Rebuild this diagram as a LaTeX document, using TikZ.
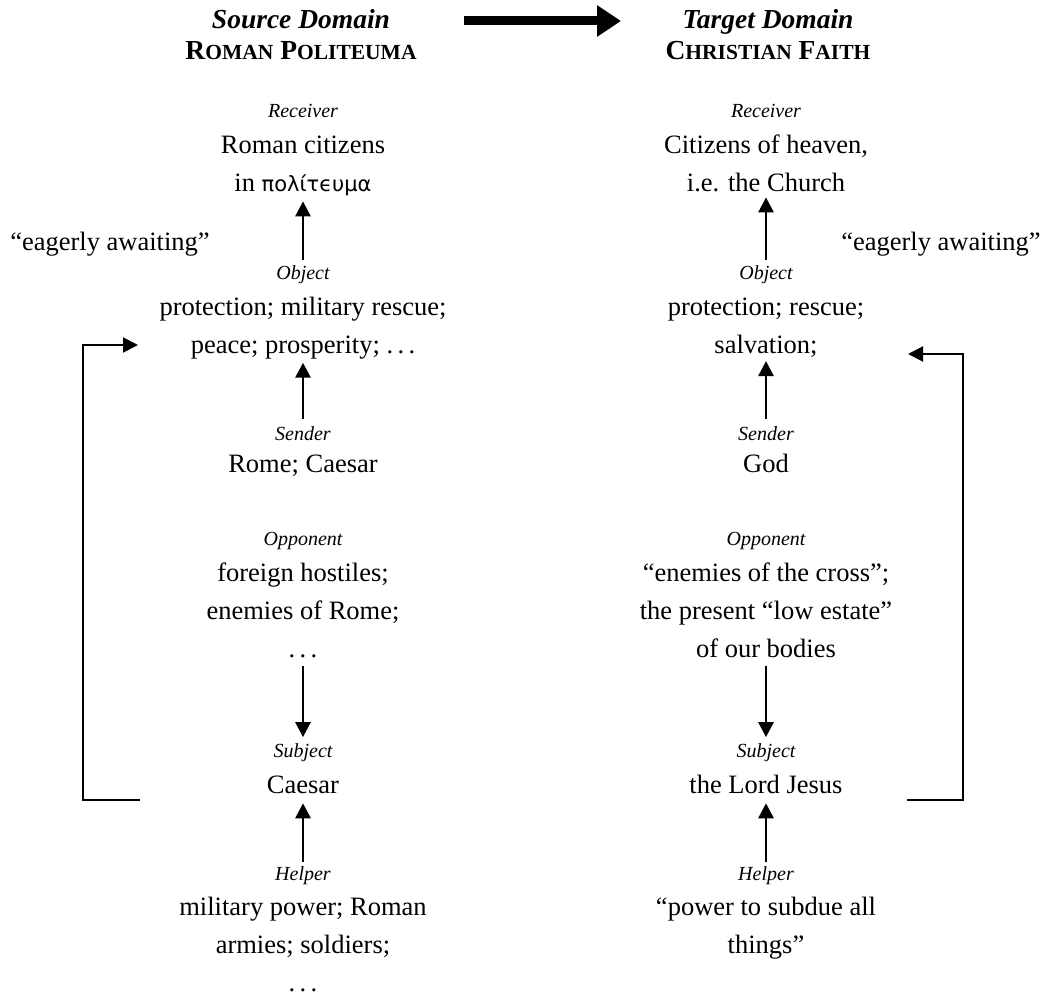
\documentclass[tikz,border=0pt]{standalone}
\usepackage{fontspec}
\setmainfont{Liberation Serif}
\newfontfamily\greekfont{DejaVu Sans}
\usetikzlibrary{arrows.meta,calc}
% faked small capitals for the domain names
\newcommand\fsc[1]{{\fontsize{21.5}{24}\selectfont #1}}
\newcommand\grk[1]{{\greekfont\fontsize{21}{38}\selectfont #1}}
\begin{document}
\begin{tikzpicture}[x=1pt,y=-1pt,
  every node/.style={inner sep=0pt, outer sep=0pt},
  role/.style={font=\fontsize{20}{24}\selectfont\itshape, anchor=base},
  % multi-line items are placed by the baseline of their last line
  item/.style={font=\fontsize{26.5}{38}\selectfont, align=center, anchor=base},
  head/.style={font=\fontsize{27.5}{32}\selectfont\bfseries, anchor=base},
  flow/.style={line width=2.7pt, -{Triangle[width=15pt,length=15pt]}},
  loopline/.style={line width=2pt, -{Triangle[width=15pt,length=15pt]}},
  mapping/.style={line width=9pt, -{Triangle[width=30pt,length=24pt]}}
]
\useasboundingbox (0,0) rectangle (1044,995);

% domain headings and the mapping arrow
\node[head] (srcA) at (301,29) {\itshape Source Domain};
\node[head] (srcB) at (301,60) {R\fsc{OMAN} P\fsc{OLITEUMA}};
\node[head] (tgtA) at (768,29) {\itshape Target Domain};
\node[head] (tgtB) at (768,60) {C\fsc{HRISTIAN} F\fsc{AITH}};
\coordinate (mapL) at (464,21);
\coordinate (mapR) at (621,21);
\draw[mapping] (mapL) -- (mapR);

% source domain actants
\node[role] (sRecL) at (303,118) {Receiver};
\node[item] (sRec)  at (303,192) {Roman citizens\\in \grk{πολίτϵυμα}};
\node[item] (sEag)  at (110,251) {“eagerly awaiting”};
\node[role] (sObjL) at (303,279) {Object};
\node[item] (sObj)  at (303,353) {protection; military rescue;\\peace; prosperity; .\,.\,.};
\node[role] (sSndL) at (303,440) {Sender};
\node[item] (sSnd)  at (303,472) {Rome; Caesar};
\node[role] (sOppL) at (303,545) {Opponent};
\node[item] (sOpp)  at (303,657) {foreign hostiles;\\enemies of Rome;\\.\,.\,.};
\node[role] (sSubL) at (303,757) {Subject};
\node[item] (sSub)  at (303,793) {Caesar};
\node[role] (sHlpL) at (303,880) {Helper};
\node[item] (sHlp)  at (303,991) {military power; Roman\\armies; soldiers;\\.\,.\,.};

% target domain actants
\node[role] (tRecL) at (766,118) {Receiver};
\node[item] (tRec)  at (766,192) {Citizens of heaven,\\i.e. the Church};
\node[item] (tEag)  at (941,251) {“eagerly awaiting”};
\node[role] (tObjL) at (766,279) {Object};
\node[item] (tObj)  at (766,353) {protection; rescue;\\salvation;};
\node[role] (tSndL) at (766,440) {Sender};
\node[item] (tSnd)  at (766,472) {God};
\node[role] (tOppL) at (766,545) {Opponent};
\node[item] (tOpp)  at (766,657) {“enemies of the cross”;\\the present “low estate”\\of our bodies};
\node[role] (tSubL) at (766,757) {Subject};
\node[item] (tSub)  at (766,793) {the Lord Jesus};
\node[role] (tHlpL) at (766,880) {Helper};
\node[item] (tHlp)  at (766,953) {“power to subdue all\\things”};

% actant arrows
\foreach \p in {s,t}{
  \draw[flow] ([yshift=5pt]\p ObjL.north) -- ([yshift=-5pt]\p Rec.south);
  \draw[flow] ([yshift=7pt]\p SndL.north) -- ([yshift=-4pt]\p Obj.south);
  \draw[flow] ([yshift=-9pt]\p Opp.south) -- ([yshift=6pt]\p SubL.north);
  \draw[flow] ([yshift=4pt]\p HlpL.north) -- ([yshift=-10pt]\p Sub.south);
}

% subject-to-object loops
\coordinate (lLow) at (140,800);
\coordinate (lTop) at (138,345);
\draw[loopline] (lLow) -- (83,800) |- (lTop);
\coordinate (rLow) at (907,800);
\coordinate (rTop) at (908,354);
\draw[loopline] (rLow) -- (963,800) |- (rTop);
\end{tikzpicture}
\end{document}
